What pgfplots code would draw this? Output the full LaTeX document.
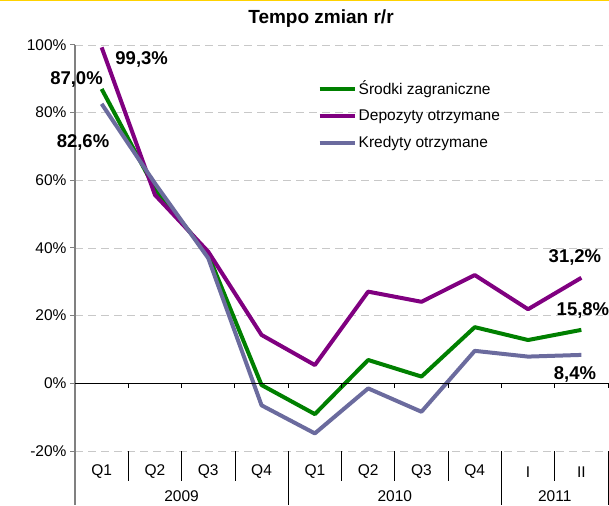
\documentclass[border=0pt]{standalone}
\usepackage{pgfplots}
\pgfplotsset{compat=1.18}
\usepackage{fontspec}
\setmainfont{Liberation Sans}
\definecolor{cgreen}{HTML}{008000}
\definecolor{cpurple}{HTML}{800080}
\definecolor{cblue}{HTML}{6B6B9E}
\definecolor{cgrid}{HTML}{C8C8C8}
\definecolor{cyel}{HTML}{FFD200}
\begin{document}
\begin{tikzpicture}
\useasboundingbox (0pt,0pt) rectangle (609pt,505pt);
\draw[cyel, line width=3pt] (0pt,505pt) -- (609pt,505pt);
\node[font=\bfseries\fontsize{19}{22}\selectfont] at (321pt,486pt) {Tempo zmian r/r};
\begin{axis}[
  scale only axis, width=533pt, height=406pt, at={(75pt,54pt)}, anchor=south west,
  xmin=-0.5, xmax=9.5, ymin=-20, ymax=100,
  axis x line=none, axis y line*=left,
  ytick={-20,0,20,40,60,80,100},
  yticklabel={\pgfmathprintnumber{\tick}\%},
  /pgf/number format/assume math mode=true,
  yticklabel style={font=\fontsize{15.5}{18}\selectfont},
  ymajorgrids,
  grid style={cgrid, dash pattern=on 8pt off 5pt, line width=0.9pt},
  y axis line style={draw=gray, line width=1.3pt},
  ytick style={draw=gray, line width=1pt},
  tick align=outside, major tick length=5pt,
  clip=false,
  legend style={at={(rel axis cs:0.455,0.917)}, anchor=north west, draw=none, fill=none,
    font=\fontsize{15.5}{18}\selectfont, row sep=10pt, inner sep=0pt},
  legend cell align=left,
  legend image code/.code={\draw[#1, line width=4pt] (0pt,0pt) -- (35pt,0pt);},
]
\addplot[cgreen, line width=4pt, line join=round, mark=none] coordinates {
 (0,87.0) (1,57.5) (2,38.0) (3,-0.5) (4,-9.1) (5,6.9) (6,2.0) (7,16.6) (8,12.8) (9,15.8)};
\addlegendentry{Środki zagraniczne}
\addplot[cpurple, line width=4pt, line join=round, mark=none] coordinates {
 (0,99.3) (1,55.7) (2,38.9) (3,14.3) (4,5.4) (5,27.1) (6,24.1) (7,32.0) (8,21.9) (9,31.2)};
\addlegendentry{Depozyty otrzymane}
\addplot[cblue, line width=4pt, line join=round, mark=none] coordinates {
 (0,82.6) (1,59.1) (2,37.0) (3,-6.5) (4,-14.8) (5,-1.5) (6,-8.4) (7,9.6) (8,7.9) (9,8.4)};
\addlegendentry{Kredyty otrzymane}
% zero line with ticks
\draw[black, line width=0.9pt] (axis cs:-0.5,0) -- (axis cs:9.5,0);
\pgfplotsinvokeforeach{0.5,1.5,2.5,3.5,4.5,5.5,6.5,7.5,8.5,9.5}{
  \draw[black, line width=0.9pt] (axis cs:#1,0) -- ++(0pt,-5pt);
}
% y axis extension
\draw[gray, line width=1.3pt] (axis cs:-0.5,-20) -- ++(0pt,-54pt);
% category separators
\pgfplotsinvokeforeach{0.5,1.5,2.5,4.5,5.5,6.5,8.5}{
  \draw[black, line width=0.7pt] (axis cs:#1,-20) -- ++(0pt,-30pt);
}
\pgfplotsinvokeforeach{3.5,7.5,9.5}{
  \draw[black, line width=0.7pt] (axis cs:#1,-20) -- ++(0pt,-54pt);
}
% category labels
\node[font=\fontsize{15.5}{18}\selectfont] at ([yshift=-21pt]axis cs:0,-20) {Q1};
\node[font=\fontsize{15.5}{18}\selectfont] at ([yshift=-21pt]axis cs:1,-20) {Q2};
\node[font=\fontsize{15.5}{18}\selectfont] at ([yshift=-21pt]axis cs:2,-20) {Q3};
\node[font=\fontsize{15.5}{18}\selectfont] at ([yshift=-21pt]axis cs:3,-20) {Q4};
\node[font=\fontsize{15.5}{18}\selectfont] at ([yshift=-21pt]axis cs:4,-20) {Q1};
\node[font=\fontsize{15.5}{18}\selectfont] at ([yshift=-21pt]axis cs:5,-20) {Q2};
\node[font=\fontsize{15.5}{18}\selectfont] at ([yshift=-21pt]axis cs:6,-20) {Q3};
\node[font=\fontsize{15.5}{18}\selectfont] at ([yshift=-21pt]axis cs:7,-20) {Q4};
\node[font=\fontsize{15.5}{18}\selectfont] at ([yshift=-21pt]axis cs:8,-20) {I};
\node[font=\fontsize{15.5}{18}\selectfont] at ([yshift=-21pt]axis cs:9,-20) {II};
\node[font=\fontsize{15.5}{18}\selectfont] at ([yshift=-45pt]axis cs:1.5,-20) {2009};
\node[font=\fontsize{15.5}{18}\selectfont] at ([yshift=-45pt]axis cs:5.5,-20) {2010};
\node[font=\fontsize{15.5}{18}\selectfont] at ([yshift=-45pt]axis cs:8.5,-20) {2011};
% data labels
\node[font=\bfseries\fontsize{18.5}{20}\selectfont] at (axis cs:0.751,95.6) {99,3\%};
\node[font=\bfseries\fontsize{18.5}{20}\selectfont] at (axis cs:-0.472,89.7) {87,0\%};
\node[font=\bfseries\fontsize{18.5}{20}\selectfont] at (axis cs:-0.35,71.1) {82,6\%};
\node[font=\bfseries\fontsize{18.5}{20}\selectfont] at (axis cs:8.88,37.2) {31,2\%};
\node[font=\bfseries\fontsize{18.5}{20}\selectfont] at (axis cs:9.03,21.6) {15,8\%};
\node[font=\bfseries\fontsize{18.5}{20}\selectfont] at (axis cs:8.88,2.5) {8,4\%};
\end{axis}
\end{tikzpicture}
\end{document}
